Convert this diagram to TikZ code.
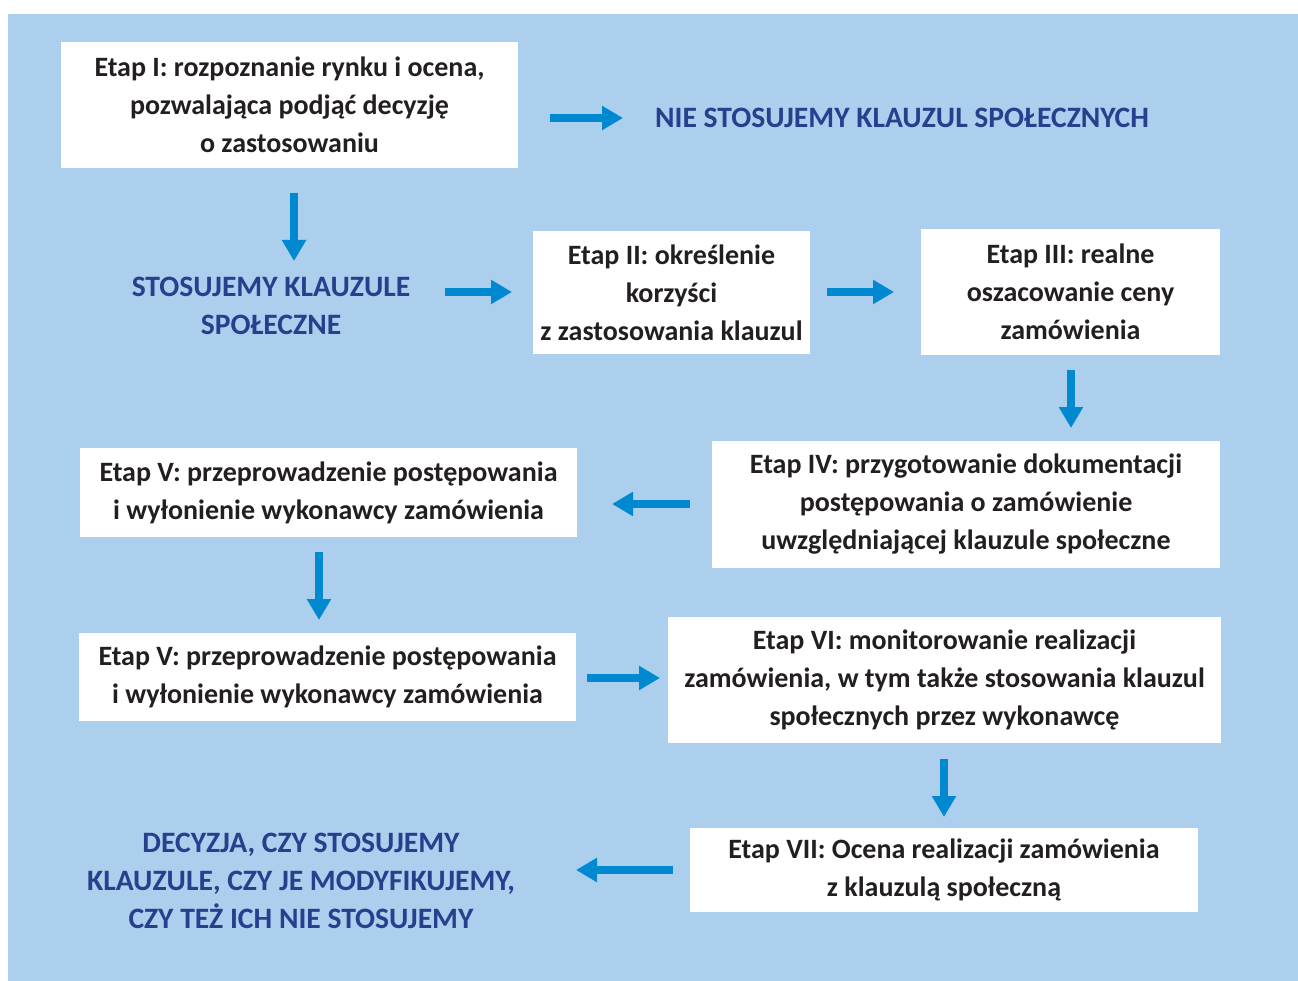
\documentclass[tikz,border=0pt]{standalone}
\usepackage{fontspec}
\setmainfont{Carlito}
\usetikzlibrary{arrows.meta}
\definecolor{tlo}{HTML}{ABCFEC}
\definecolor{strz}{HTML}{0088D1}
\definecolor{granat}{HTML}{283F8E}
\definecolor{czarny}{HTML}{231F20}
\tikzset{
    etap/.style={fill=white, text=czarny, align=center, inner sep=0pt,
        font=\fontsize{28}{38}\selectfont\bfseries},
    napis/.style={text=granat, align=center, inner sep=0pt,
        font=\fontsize{29.6}{38}\selectfont\bfseries},
    strzalka/.style={strz, line width=8pt, -{Triangle[length=21pt,width=23pt]}}
}
\begin{document}
\begin{tikzpicture}[x=1pt,y=-1pt]
                \useasboundingbox (0,0) rectangle (1298,981);
                \fill[tlo] (8,14) rectangle (1298,981);
                \node[etap, minimum width=457pt, minimum height=126pt] (e1) at (289.5,105)
                    {Etap I: rozpoznanie rynku i ocena,\\ pozwalająca podjąć decyzję\\ o zastosowaniu};
                \node[napis] (nie) at (902,118) {NIE STOSUJEMY KLAUZUL SPOŁECZNYCH};
                \node[napis] (tak) at (271,306) {STOSUJEMY KLAUZULE\\ SPOŁECZNE};
                \node[etap, minimum width=277pt, minimum height=123pt] (e2) at (671.5,292.5)
                    {Etap II: określenie\\ korzyści\\ z zastosowania klauzul};
                \node[etap, minimum width=299pt, minimum height=126pt] (e3) at (1070.5,292)
                    {Etap III: realne\\ oszacowanie ceny\\ zamówienia};
                \node[etap, minimum width=508pt, minimum height=127pt] (e4) at (966,504.5)
                    {Etap IV: przygotowanie dokumentacji\\ postępowania o zamówienie\\ uwzględniającej klauzule społeczne};
                \node[etap, minimum width=497pt, minimum height=89pt] (e5) at (328.5,492.5)
                    {Etap V: przeprowadzenie postępowania\\ i wyłonienie wykonawcy zamówienia};
                \node[etap, minimum width=497pt, minimum height=88pt] (e5b) at (327.5,677)
                    {Etap V: przeprowadzenie postępowania\\ i wyłonienie wykonawcy zamówienia};
                \node[etap, minimum width=553pt, minimum height=126pt] (e6) at (944.5,680)
                    {Etap VI: monitorowanie realizacji\\ zamówienia, w tym także stosowania klauzul\\ społecznych przez wykonawcę};
                \node[etap, minimum width=508pt, minimum height=84pt] (e7) at (944,870)
                    {Etap VII: Ocena realizacji zamówienia\\ z klauzulą społeczną};
                \node[napis] (dec) at (301,880.5)
                    {DECYZJA, CZY STOSUJEMY\\ KLAUZULE, CZY JE MODYFIKUJEMY,\\ CZY TEŻ ICH NIE STOSUJEMY};
                \coordinate (a1) at (550,118);  \coordinate (b1) at (623,118);
                \coordinate (a2) at (294,193);  \coordinate (b2) at (294,261);
                \coordinate (a3) at (445,292);  \coordinate (b3) at (512,292);
                \coordinate (a4) at (827,292);  \coordinate (b4) at (894,292);
                \coordinate (a5) at (1071,370); \coordinate (b5) at (1071,428);
                \coordinate (a6) at (690,504);  \coordinate (b6) at (612,504);
                \coordinate (a7) at (319,552);  \coordinate (b7) at (319,620);
                \coordinate (a8) at (587,678);  \coordinate (b8) at (660,678);
                \coordinate (a9) at (944,759);  \coordinate (b9) at (944,817);
                \coordinate (a10) at (673,870); \coordinate (b10) at (576,870);
                \foreach \i in {1,...,10}
                    \draw[strzalka] (a\i) -- (b\i);
            \end{tikzpicture}
\end{document}
